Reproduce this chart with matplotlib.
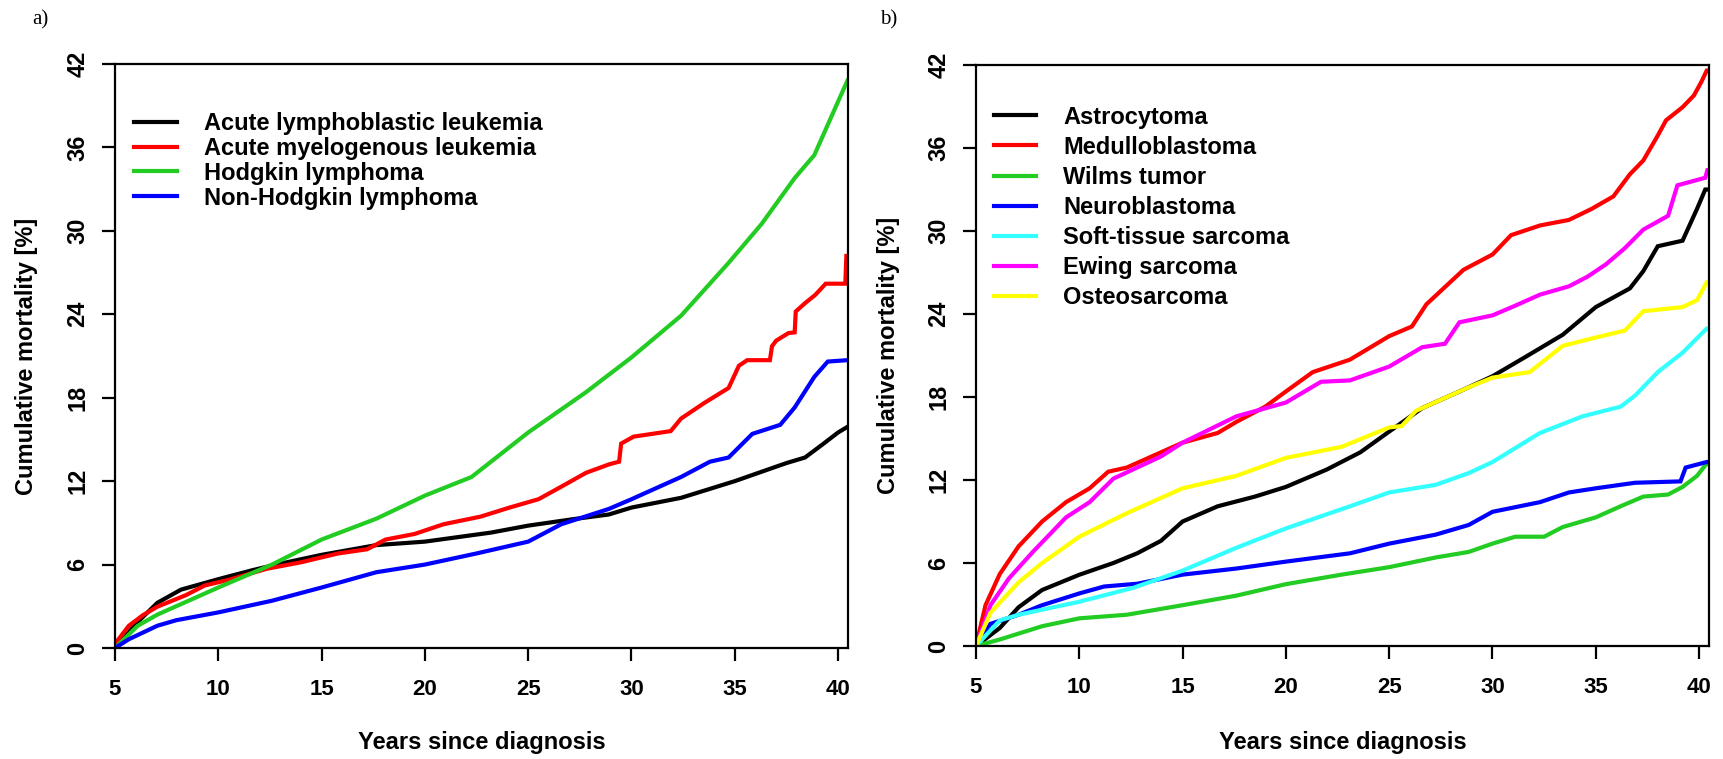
import matplotlib
matplotlib.use("Agg")
import matplotlib.pyplot as plt

# ---------------- data: panel a ----------------
a_labels = ["Acute lymphoblastic leukemia", "Acute myelogenous leukemia",
            "Hodgkin lymphoma", "Non-Hodgkin lymphoma"]
a_colors = ["#000000", "#FF0000", "#22CC22", "#0000FF"]

all_x = [5.0, 6.1, 7.05, 8.2, 10.0, 11.66, 12.8, 15.0, 17.65, 20.0, 23.2, 25.0, 27.1, 28.9, 30.0,
         32.4, 35.0, 37.5, 38.4, 39.3, 40.0, 40.45]
all_y = [0.0, 1.87, 3.25, 4.2, 4.95, 5.6, 6.0, 6.7, 7.4, 7.65, 8.3, 8.8, 9.25, 9.6, 10.1,
         10.8, 12.0, 13.3, 13.7, 14.7, 15.5, 15.9]

aml_x = [5.0, 5.67, 6.36, 7.05, 8.43, 9.35, 10.5, 12.35, 13.96, 15.8, 17.2, 18.1, 19.5, 20.9, 22.7,
         24.1, 25.5, 26.6, 27.8, 28.9, 29.4, 29.5, 30.1, 31.9, 32.4, 33.5, 34.7, 35.2, 35.6, 36.7,
         36.8, 37.0, 37.6, 37.9, 37.95, 38.4, 38.9, 39.4, 40.35, 40.4, 40.45]
aml_y = [0.3, 1.6, 2.37, 2.97, 3.8, 4.5, 4.9, 5.7, 6.15, 6.8, 7.1, 7.8, 8.2, 8.9, 9.45,
         10.1, 10.7, 11.6, 12.6, 13.2, 13.4, 14.7, 15.2, 15.6, 16.5, 17.6, 18.7, 20.3, 20.7, 20.7,
         21.7, 22.1, 22.65, 22.7, 24.2, 24.8, 25.4, 26.2, 26.2, 28.2, 28.2]

hl_x = [5.0, 6.1, 7.05, 10.0, 12.6, 15.0, 17.65, 20.0, 22.26, 25.0, 27.8, 30.0, 32.4, 34.7, 36.3,
        37.9, 38.85, 40.0, 40.45]
hl_y = [0.0, 1.6, 2.4, 4.35, 6.0, 7.8, 9.3, 10.96, 12.3, 15.5, 18.4, 20.9, 23.9, 27.7, 30.5,
        33.8, 35.45, 39.3, 40.8]

nhl_x = [5.0, 5.67, 7.05, 7.97, 10.0, 12.6, 15.0, 17.65, 20.0, 22.5, 25.0, 26.6, 28.9, 30.0, 32.4,
         33.8, 34.7, 35.85, 37.2, 37.9, 38.85, 39.5, 40.45]
nhl_y = [0.0, 0.63, 1.6, 2.0, 2.56, 3.4, 4.35, 5.45, 6.0, 6.8, 7.65, 8.9, 10.0, 10.7, 12.3,
         13.4, 13.7, 15.4, 16.05, 17.3, 19.5, 20.6, 20.7]

a_x = [all_x, aml_x, hl_x, nhl_x]
a_y = [all_y, aml_y, hl_y, nhl_y]

# ---------------- data: panel b ----------------
b_labels = ["Astrocytoma", "Medulloblastoma", "Wilms tumor", "Neuroblastoma",
            "Soft-tissue sarcoma", "Ewing sarcoma", "Osteosarcoma"]
b_colors = ["#000000", "#FF0000", "#22CC22", "#0000FF", "#33FFFF", "#FF00FF", "#FFFF00"]

astro_x = [5.0, 6.15, 7.06, 8.2, 10.0, 11.65, 12.8, 13.95, 15.0, 16.7, 18.5, 20.0, 21.97, 23.6,
           25.0, 26.6, 28.4, 30.0, 31.6, 33.4, 35.0, 36.65, 37.3, 38.0, 39.2, 39.9, 40.3, 40.45]
astro_y = [0.0, 1.3, 2.8, 4.05, 5.15, 6.0, 6.7, 7.6, 9.0, 10.1, 10.8, 11.5, 12.75, 14.0,
           15.5, 17.2, 18.4, 19.5, 20.9, 22.5, 24.5, 25.85, 27.1, 28.9, 29.3, 31.6, 33.0, 33.0]

medullo_x = [5.0, 5.46, 6.15, 7.06, 8.2, 9.36, 10.5, 11.4, 12.3, 13.95, 15.0, 16.7, 17.6, 19.0,
             20.0, 21.3, 23.1, 25.0, 26.1, 26.8, 28.6, 30.0, 30.9, 32.3, 33.7, 34.8, 35.85,
             36.65, 37.3, 38.0, 38.4, 39.2, 39.75, 40.1, 40.37, 40.45]
medullo_y = [0.0, 2.95, 5.2, 7.2, 9.0, 10.4, 11.4, 12.6, 12.9, 14.0, 14.7, 15.4, 16.2, 17.3,
             18.4, 19.8, 20.7, 22.4, 23.1, 24.7, 27.2, 28.3, 29.7, 30.4, 30.8, 31.6, 32.5,
             34.1, 35.1, 36.9, 38.0, 38.95, 39.8, 40.75, 41.6, 41.6]

wilms_x = [5.0, 6.15, 8.2, 10.0, 12.3, 15.0, 17.6, 20.0, 22.7, 25.0, 27.25, 28.85, 30.0, 31.1,
           32.5, 33.4, 35.0, 36.2, 37.3, 38.5, 39.2, 39.9, 40.37, 40.45]
wilms_y = [0.0, 0.47, 1.43, 2.0, 2.26, 2.95, 3.64, 4.47, 5.16, 5.7, 6.4, 6.8, 7.4, 7.9,
           7.9, 8.6, 9.3, 10.1, 10.8, 10.95, 11.5, 12.3, 13.2, 13.2]

neuro_x = [5.0, 5.7, 7.06, 8.2, 10.0, 11.2, 12.8, 15.0, 17.6, 20.0, 23.1, 25.0, 27.25, 28.85,
           30.0, 32.3, 33.7, 35.0, 36.9, 39.1, 39.35, 40.37, 40.45]
neuro_y = [0.0, 1.6, 2.26, 2.95, 3.8, 4.3, 4.5, 5.16, 5.6, 6.1, 6.7, 7.4, 8.05, 8.75,
           9.7, 10.4, 11.1, 11.4, 11.8, 11.9, 12.9, 13.3, 13.3]

soft_x = [5.0, 6.15, 7.06, 10.0, 12.6, 15.0, 17.6, 20.0, 23.1, 25.0, 27.25, 28.85, 30.0, 32.3,
          34.35, 36.2, 36.9, 38.0, 39.2, 40.37, 40.45]
soft_y = [0.0, 1.85, 2.26, 3.2, 4.2, 5.45, 7.1, 8.5, 10.1, 11.1, 11.65, 12.5, 13.3, 15.4,
          16.6, 17.3, 18.1, 19.8, 21.2, 22.95, 22.95]

ewing_x = [5.0, 5.7, 6.6, 7.75, 9.36, 10.5, 11.65, 13.95, 15.0, 17.6, 20.0, 21.7, 23.1, 25.0,
           26.6, 27.7, 28.4, 30.0, 31.1, 32.3, 33.7, 34.6, 35.5, 36.4, 37.3, 38.5, 38.95,
           40.3, 40.4, 40.45]
ewing_y = [0.0, 2.95, 4.9, 6.8, 9.3, 10.4, 12.1, 13.7, 14.7, 16.6, 17.6, 19.1, 19.2, 20.2,
           21.6, 21.85, 23.4, 23.9, 24.6, 25.4, 26.0, 26.7, 27.6, 28.75, 30.1, 31.1, 33.3,
           33.85, 34.4, 34.4]

osteo_x = [5.0, 5.7, 7.06, 8.2, 10.0, 12.3, 15.0, 17.6, 20.0, 22.7, 25.0, 25.6, 26.3, 28.85,
           30.0, 31.8, 33.4, 35.0, 36.4, 37.3, 39.2, 39.9, 40.37, 40.45]
osteo_y = [0.0, 2.4, 4.6, 6.0, 7.9, 9.6, 11.4, 12.3, 13.6, 14.4, 15.8, 15.9, 17.0, 18.7,
           19.4, 19.8, 21.7, 22.3, 22.8, 24.2, 24.5, 25.0, 26.3, 26.3]

b_x = [astro_x, medullo_x, wilms_x, neuro_x, soft_x, ewing_x, osteo_x]
b_y = [astro_y, medullo_y, wilms_y, neuro_y, soft_y, ewing_y, osteo_y]

x_ticks = [5, 10, 15, 20, 25, 30, 35, 40]
y_ticks = [0, 6, 12, 18, 24, 30, 36, 42]

# ---------------- figure ----------------
SANS = ["Liberation Sans", "DejaVu Sans"]
SERIF = ["Liberation Serif", "DejaVu Serif"]
plt.rcParams["font.family"] = SANS

W, H = 1723, 759
fig = plt.figure(figsize=(W / 100, H / 100), dpi=100)


def make_axes(rect_px, xs, ys, labels, colors, leg_anchor, leg_spacing, panel, panel_xy):
    x0, y0, x1, y1 = rect_px
    ax = fig.add_axes([x0 / W, 1 - y1 / H, (x1 - x0) / W, (y1 - y0) / H])
    for x, y, c, lab in zip(xs, ys, colors, labels):
        ax.plot(x, y, color=c, lw=3.0, label=lab, solid_joinstyle="miter")
    ax.set_xlim(5, 40.48)
    ax.set_ylim(0, 42)
    ax.set_xticks(x_ticks)
    ax.set_yticks(y_ticks)
    for s in ax.spines.values():
        s.set_linewidth(1.6)
    ax.tick_params(axis="both", direction="out", length=9.4, width=1.6)
    ax.tick_params(axis="x", pad=13, labelsize=16)
    ax.tick_params(axis="y", pad=9, labelsize=17)
    for t in ax.get_xticklabels():
        t.set_fontweight("bold")
    for t in ax.get_yticklabels():
        t.set_fontweight("bold")
        t.set_rotation(90)
        t.set_verticalalignment("center")
    leg = ax.legend(loc="upper left", bbox_to_anchor=leg_anchor, frameon=False,
                    prop={"family": SANS, "weight": "bold", "size": 17},
                    handlelength=1.8, handletextpad=1.15, labelspacing=leg_spacing,
                    borderaxespad=0, borderpad=0)
    for h in leg.get_lines():
        h.set_linewidth(3.0)
    fig.text(panel_xy[0] / W, 1 - panel_xy[1] / H, panel, family=SERIF, fontsize=15,
             ha="left", va="center")
    # axis labels
    cx = (x0 + x1) / 2
    fig.text(cx / W, 1 - 743 / H, "Years since diagnosis", ha="center", va="center",
             fontsize=17, fontweight="bold")
    fig.text((x0 - 88) / W, 1 - ((y0 + y1) / 2) / H, "Cumulative mortality [%]",
             ha="center", va="center", rotation=90, fontsize=17, fontweight="bold")
    return ax


make_axes((115, 64, 848, 648), a_x, a_y, a_labels, a_colors,
          (0.026, 0.918), 0.08, "a)", (32, 20))
make_axes((976, 65, 1709, 646), b_x, b_y, b_labels, b_colors,
          (0.024, 0.93), 0.3, "b)", (880, 20))

fig.savefig("out.png", dpi=100)
